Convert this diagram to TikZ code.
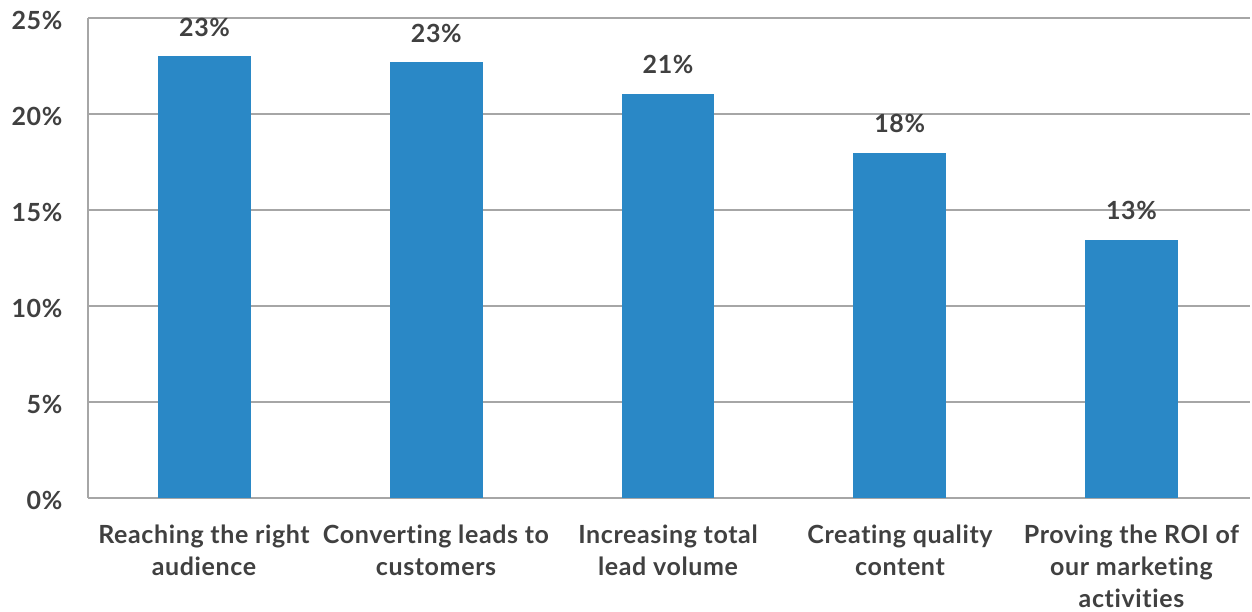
\documentclass[tikz,border=0pt]{standalone}
\usepackage{fontspec}
\setmainfont{Lato}[UprightFont=* Bold,LetterSpace=2.5,Ligatures=NoCommon]
\definecolor{txt}{HTML}{404040}
\definecolor{barc}{HTML}{2A88C6}
\definecolor{gridc}{HTML}{A6A6A6}
\begin{document}
\begin{tikzpicture}[x=1pt,y=-1pt,
  lbl/.style={text=txt,font=\fontsize{25}{32}\selectfont,inner sep=0pt,align=center},
  gridline/.style={draw=gridc,line width=1.5pt}]
\useasboundingbox (0,0) rectangle (1252,611);
% gridlines
\foreach \v/\t in {0/0\%,5/5\%,10/10\%,15/15\%,20/20\%,25/25\%}{
  \draw[gridline] (88,{498-19.2*\v}) -- (1250,{498-19.2*\v});
  \node[lbl,anchor=base east] (y\v) at (62.5,{498-19.2*\v+11.5}) {\t};
}
\draw[gridline] (88,18) -- (88,498);
% bars
\foreach \i/\v/\t in {0/23.0/23\%,1/22.7/23\%,2/21.05/21\%,3/17.97/18\%,4/13.44/13\%}{
  \fill[barc] ({158.3+231.7*\i},498) rectangle ({251+231.7*\i},{498-19.2*\v});
  \node[lbl,anchor=base] (v\i) at ({204.6+231.7*\i},{498-19.2*\v-20}) {\t};
}
% category labels (base = baseline of last line)
\node[lbl,anchor=base] (c0) at (204,575) {Reaching the right\\audience};
\node[lbl,anchor=base] (c1) at (436,575) {Converting leads to\\customers};
\node[lbl,anchor=base] (c2) at (668,575) {Increasing total\\lead volume};
\node[lbl,anchor=base] (c3) at (900,575) {Creating quality\\content};
\node[lbl,anchor=base] (c4) at (1131.5,607) {Proving the ROI of\\our marketing\\activities};
\end{tikzpicture}
\end{document}
